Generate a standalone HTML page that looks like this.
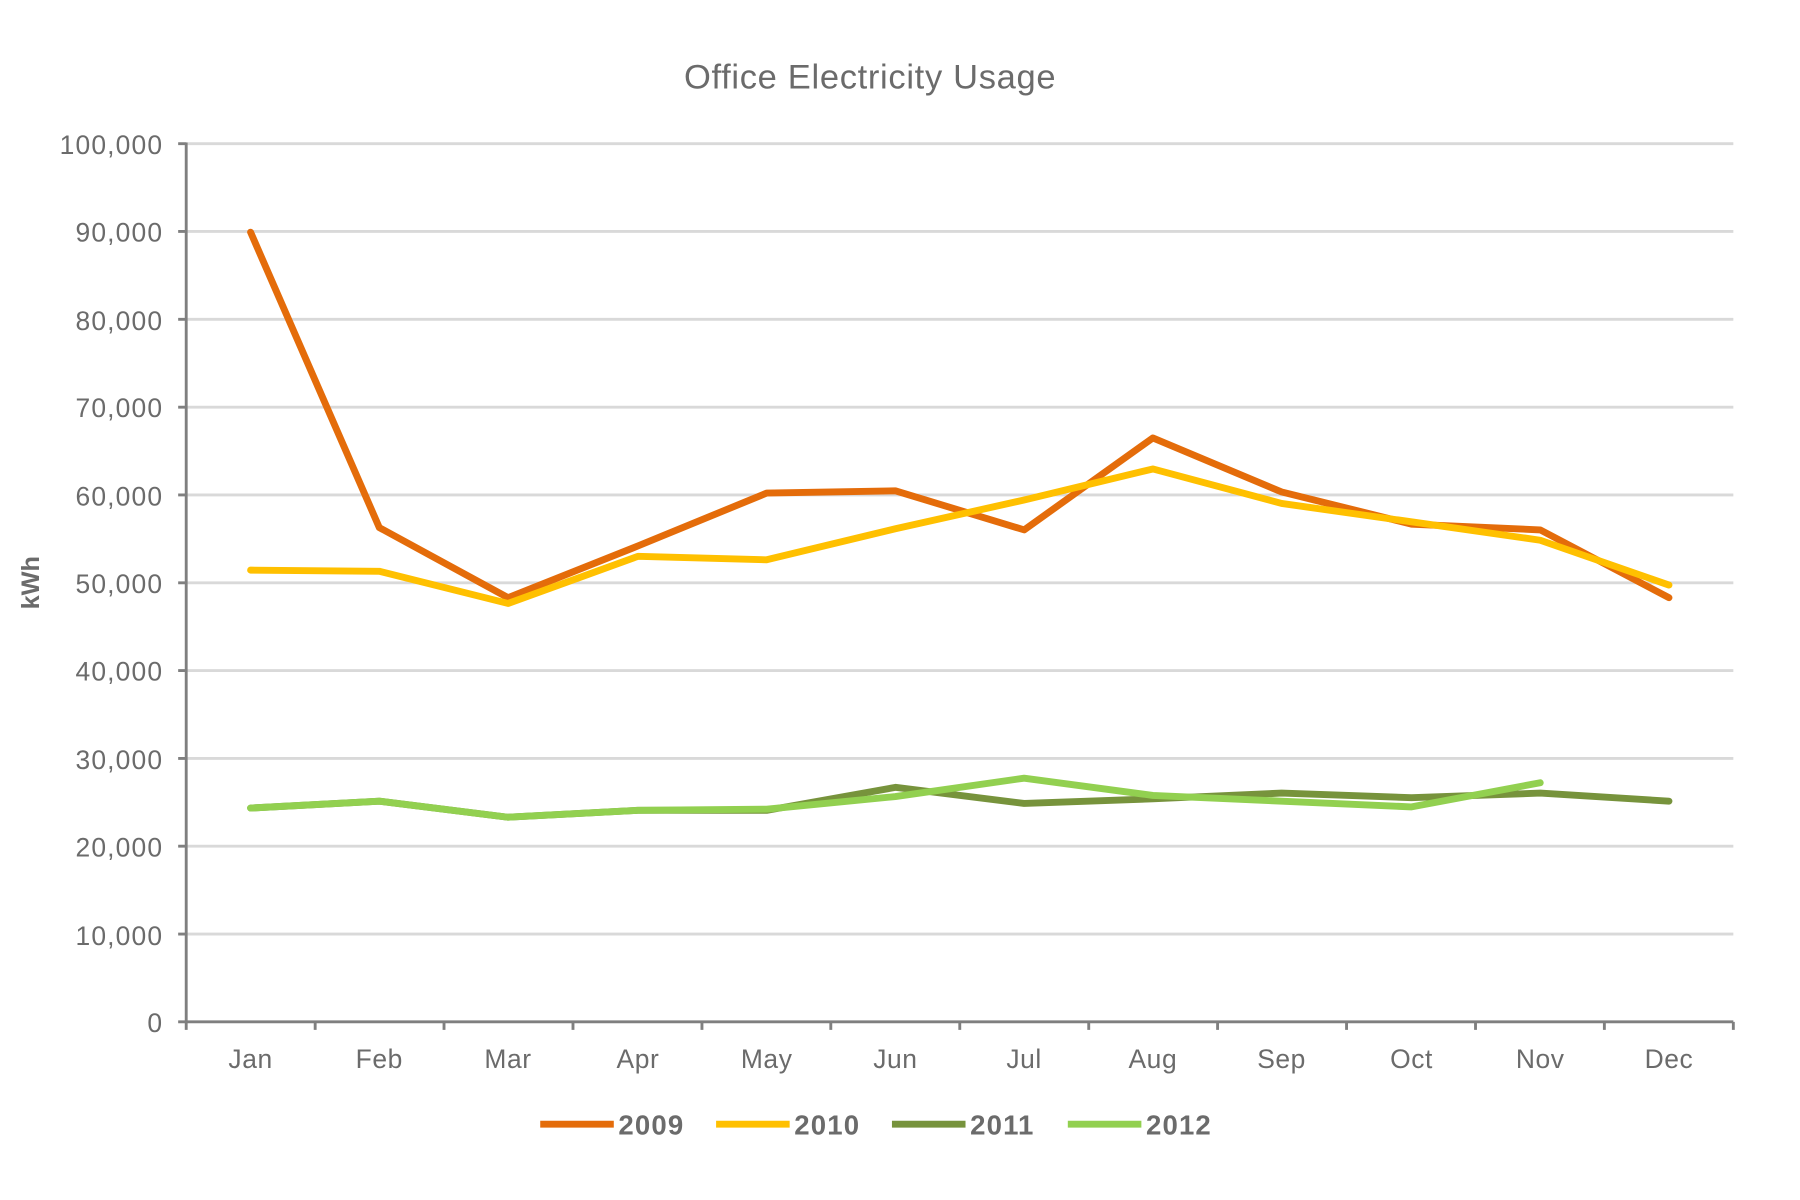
<!DOCTYPE html>
<html><head><style>html,body{margin:0;padding:0;background:#fff}svg{display:block}</style></head><body>
<svg width="1800" height="1200" viewBox="0 0 1566 1044" xmlns="http://www.w3.org/2000/svg" font-family="Liberation Sans, Arial, sans-serif">
<rect width="1566" height="1044" fill="#fff"/>
<text x="757" y="77" font-size="30" letter-spacing="0.6" fill="#6b6b6b" text-anchor="middle">Office Electricity Usage</text>
<g stroke="#d9d9d9" stroke-width="2.5">
<line x1="162" x2="1508" y1="125" y2="125"/><line x1="162" x2="1508" y1="201.4" y2="201.4"/>
<line x1="162" x2="1508" y1="277.8" y2="277.8"/><line x1="162" x2="1508" y1="354.2" y2="354.2"/>
<line x1="162" x2="1508" y1="430.6" y2="430.6"/><line x1="162" x2="1508" y1="507" y2="507"/>
<line x1="162" x2="1508" y1="583.4" y2="583.4"/><line x1="162" x2="1508" y1="659.8" y2="659.8"/>
<line x1="162" x2="1508" y1="736.2" y2="736.2"/><line x1="162" x2="1508" y1="812.6" y2="812.6"/>
</g>
<g stroke="#7f7f7f" stroke-width="2.5" fill="none">
<line x1="162" y1="124" x2="162" y2="890"/><line x1="161" y1="889" x2="1508" y2="889"/>
<path d="M155 125H162M155 201.4H162M155 277.8H162M155 354.2H162M155 430.6H162M155 507H162M155 583.4H162M155 659.8H162M155 736.2H162M155 812.6H162M155 889H162"/>
<path d="M162 889v7M274.2 889v7M386.3 889v7M498.5 889v7M610.7 889v7M722.8 889v7M835 889v7M947.2 889v7M1059.3 889v7M1171.5 889v7M1283.7 889v7M1395.8 889v7M1508 889v7"/>
</g>
<g font-size="23" letter-spacing="1" fill="#6b6b6b" text-anchor="end">
<text x="142" y="134">100,000</text><text x="142" y="210">90,000</text><text x="142" y="287">80,000</text>
<text x="142" y="363">70,000</text><text x="142" y="440">60,000</text><text x="142" y="516">50,000</text>
<text x="142" y="592">40,000</text><text x="142" y="669">30,000</text><text x="142" y="745">20,000</text>
<text x="142" y="822">10,000</text><text x="142" y="898">0</text>
</g>
<g font-size="23" letter-spacing="0.5" fill="#6b6b6b" text-anchor="middle">
<text x="218" y="929">Jan</text><text x="330" y="929">Feb</text><text x="442" y="929">Mar</text><text x="555" y="929">Apr</text>
<text x="667" y="929">May</text><text x="779" y="929">Jun</text><text x="891" y="929">Jul</text><text x="1003" y="929">Aug</text>
<text x="1115" y="929">Sep</text><text x="1228" y="929">Oct</text><text x="1340" y="929">Nov</text><text x="1452" y="929">Dec</text>
</g>
<text transform="translate(34,507) rotate(-90)" font-size="22" font-weight="bold" fill="#6b6b6b" text-anchor="middle">kWh</text>
<g fill="none" stroke-width="6" stroke-linejoin="round" stroke-linecap="round">
<polyline stroke="#77933c" points="218,703 330,697 442,711 555,705 667,705 779,685 891,699 1003,695 1115,690 1228,694 1340,690 1452,697"/>
<polyline stroke="#92d050" points="218,703 330,697 442,711 555,705 667,704 779,693 891,677 1003,692 1115,697 1228,702 1340,681"/>
<polyline stroke="#e46c0a" points="218,202 330,459 442,520 555,475 667,429 779,427 891,461 1003,381 1115,428 1228,456 1340,461 1452,520"/>
<polyline stroke="#ffc000" points="218,496 330,497 442,525 555,484 667,487 779,460 891,435 1003,408 1115,438 1228,454 1340,470 1452,509"/>
</g>
<g stroke-width="6">
<line x1="470" x2="534" y1="978" y2="978" stroke="#e46c0a"/>
<line x1="623" x2="687" y1="978" y2="978" stroke="#ffc000"/>
<line x1="776" x2="840" y1="978" y2="978" stroke="#77933c"/>
<line x1="929" x2="993" y1="978" y2="978" stroke="#92d050"/>
</g>
<g font-size="24" font-weight="bold" letter-spacing="1" fill="#6b6b6b">
<text x="538" y="987">2009</text><text x="691" y="987">2010</text><text x="844" y="987">2011</text><text x="997" y="987">2012</text>
</g>
</svg>
</body></html>
